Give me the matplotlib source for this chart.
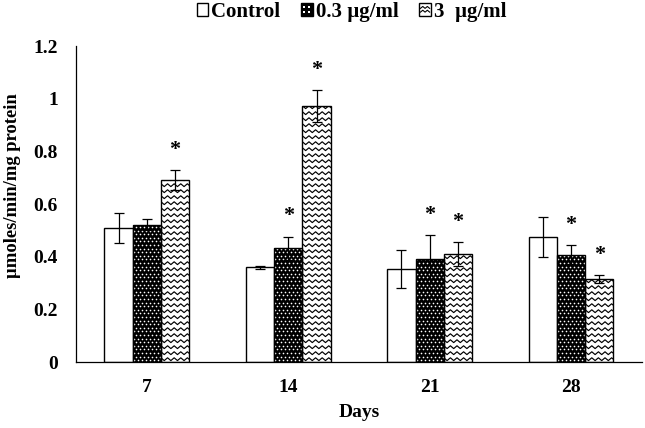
import numpy as np
import matplotlib
matplotlib.use('Agg')
import matplotlib.pyplot as plt
from matplotlib.patches import Rectangle
from matplotlib.lines import Line2D
from matplotlib.collections import LineCollection
from matplotlib.legend_handler import HandlerBase

plt.rcParams['font.family'] = ['Liberation Serif', 'DejaVu Serif']
plt.rcParams['font.weight'] = 'bold'

# ── data ──────────────────────────────────────────────────
days = ['7', '14', '21', '28']
series = ['Control', '0.3 µg/ml', '3  µg/ml']

control = [0.51, 0.36, 0.353, 0.477]
control_err = [0.056, 0.006, 0.071, 0.076]
low_dose = [0.522, 0.433, 0.391, 0.408]
low_dose_err = [0.022, 0.044, 0.090, 0.035]
high_dose = [0.691, 0.973, 0.410, 0.315]
high_dose_err = [0.038, 0.061, 0.046, 0.014]

low_star = [False, True, True, True]
high_star = [True, True, True, True]

# ── figure ───────────────────────────────────────────────
fig = plt.figure(figsize=(6.45, 4.28), dpi=100)
ax = fig.add_axes([0.118, 0.154, 0.877, 0.738])
ax.set_xlim(-0.5, 3.5)
ax.set_ylim(0, 1.2)

x = np.arange(len(days))
w = 0.2

# px -> data units (axes position is fixed, so this is stable)
px_x = (ax.get_xlim()[1] - ax.get_xlim()[0]) / (645 * 0.877)
px_y = (ax.get_ylim()[1] - ax.get_ylim()[0]) / (428 * 0.738)


def dots_in(ax, bar):
    # white dot grid on black bar
    x0, y0 = bar.get_x(), bar.get_y()
    bw, bh = bar.get_width(), bar.get_height()
    sx, sy = 4 * px_x, 3.6 * px_y
    xs, ys = [], []
    for i, yy in enumerate(np.arange(y0 + sy / 2, y0 + bh, sy)):
        off = sx / 2 if i % 2 else 0
        for xx in np.arange(x0 + sx / 4 + off, x0 + bw, sx):
            xs.append(xx)
            ys.append(yy)
    sc = ax.scatter(xs, ys, s=1.4, c='white', linewidths=0, zorder=3)
    sc.set_clip_path(bar)


def zigzag_in(ax, bar):
    x0, y0 = bar.get_x(), bar.get_y()
    bw, bh = bar.get_width(), bar.get_height()
    half = 3.3 * px_x
    amp = 2.8 * px_y
    step = 6.0 * px_y
    xs = np.arange(x0 - half, x0 + bw + 2 * half, half)
    segs = []
    for yy in np.arange(y0 + 1.5 * px_y, y0 + bh + step, step):
        ys = yy + amp * (np.arange(len(xs)) % 2)
        segs.append(np.column_stack([xs, ys]))
    lc = LineCollection(segs, colors='black', linewidths=0.85, zorder=3)
    ax.add_collection(lc)
    lc.set_clip_path(bar)


b1 = ax.bar(x - w, control, w, color='white', edgecolor='black', linewidth=1.0, zorder=2)
b2 = ax.bar(x, low_dose, w, color='black', edgecolor='none', zorder=2)
b3 = ax.bar(x + w, high_dose, w, color='white', edgecolor='none', zorder=2)
for b in b2:
    dots_in(ax, b)
for b in b3:
    zigzag_in(ax, b)
# outlines on top of the patterns
ax.bar(x, low_dose, w, fill=False, edgecolor='black', linewidth=1.0, zorder=4)
ax.bar(x + w, high_dose, w, fill=False, edgecolor='black', linewidth=1.0, zorder=4)

ekw = dict(fmt='none', ecolor='black', elinewidth=0.9, capsize=3.5, capthick=0.9, zorder=5)
ax.errorbar(x - w, control, yerr=control_err, **ekw)
ax.errorbar(x, low_dose, yerr=low_dose_err, **ekw)
ax.errorbar(x + w, high_dose, yerr=high_dose_err, **ekw)

# significance stars
for i in range(len(days)):
    if low_star[i]:
        ax.text(x[i], low_dose[i] + low_dose_err[i] + 0.077, '*', ha='center', va='center',
                fontsize=16, fontweight='bold')
    if high_star[i]:
        ax.text(x[i] + w, high_dose[i] + high_dose_err[i] + 0.077, '*', ha='center', va='center',
                fontsize=16, fontweight='bold')

ax.set_xticks(x)
ax.set_xticklabels(days)
ax.set_yticks(np.arange(0, 1.21, 0.2))
ax.set_yticklabels(['0', '0.2', '0.4', '0.6', '0.8', '1', '1.2'])
ax.tick_params(axis='both', length=0, labelsize=14)
ax.tick_params(axis='y', pad=13)
ax.tick_params(axis='x', pad=12)
for s in ['top', 'right']:
    ax.spines[s].set_visible(False)
for s in ['left', 'bottom']:
    ax.spines[s].set_linewidth(0.9)

ax.set_xlabel('Days', fontsize=14, fontweight='bold', labelpad=6)
ax.set_ylabel('µmoles/min/mg protein', fontsize=13.4, fontweight='bold')
ax.yaxis.set_label_coords(-0.097, 0.56)


# ── legend with the same fill patterns ───────────────────
class PatternHandler(HandlerBase):
    def __init__(self, kind):
        super().__init__()
        self.kind = kind

    def create_artists(self, legend, orig_handle, xdescent, ydescent,
                       width, height, fontsize, trans):
        x0, y0 = -xdescent, -ydescent
        arts = []
        face = 'black' if self.kind == 'dots' else 'white'
        arts.append(Rectangle((x0, y0), width, height, facecolor=face,
                              edgecolor='none', transform=trans))
        if self.kind == 'dots':
            gx = x0 + width * np.array([0.28, 0.72])
            gy = y0 + height * np.array([0.28, 0.72])
            for yy in gy:
                arts.append(Line2D(gx, [yy, yy], linestyle='none', marker='s',
                                   markersize=1.6, color='white', markeredgewidth=0,
                                   transform=trans))
        elif self.kind == 'zig':
            xs = x0 + width * np.linspace(0.1, 0.9, 5)
            for f in [0.3, 0.6]:
                ys = y0 + height * (f + 0.15 * (np.arange(5) % 2))
                arts.append(Line2D(xs, ys, color='black', linewidth=0.8, transform=trans))
        arts.append(Rectangle((x0, y0), width, height, fill=False,
                              edgecolor='black', linewidth=1.0, transform=trans))
        return arts


handles = [Rectangle((0, 0), 1, 1), Rectangle((0, 0), 1, 1), Rectangle((0, 0), 1, 1)]
leg = fig.legend(handles, series, loc='center', bbox_to_anchor=(0.545, 0.972), ncol=3,
                 frameon=False, handlelength=0.55, handleheight=0.55,
                 handletextpad=0.15, columnspacing=1.0, borderaxespad=0,
                 prop={'weight': 'bold', 'size': 15},
                 handler_map={handles[0]: PatternHandler('plain'),
                              handles[1]: PatternHandler('dots'),
                              handles[2]: PatternHandler('zig')})

fig.savefig('out.png', dpi=100)
